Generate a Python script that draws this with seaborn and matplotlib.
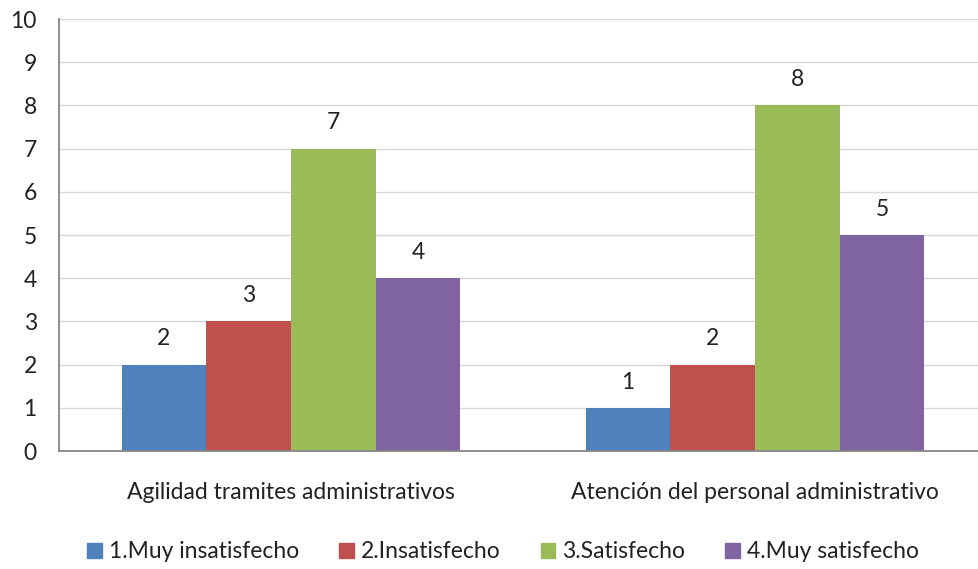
import pandas as pd
import matplotlib.pyplot as plt
import seaborn as sns

# Chart data
categories = ['Agilidad tramites administrativos', 'Atención del personal administrativo']
levels = ['1.Muy insatisfecho', '2.Insatisfecho', '3.Satisfecho', '4.Muy satisfecho']
agilidad = [2, 3, 7, 4]
atencion = [1, 2, 8, 5]
colors = ['#4F81BD', '#C0504D', '#9BBB59', '#8064A2']

df = pd.DataFrame({
    'categoria': [categories[0]] * 4 + [categories[1]] * 4,
    'nivel': levels + levels,
    'valor': agilidad + atencion,
})

sns.set_style('white')
plt.rcParams['font.family'] = ['Lato', 'DejaVu Sans']
fs = 16.5

fig = plt.figure(figsize=(9.79, 5.69), dpi=100)
ax = fig.add_axes([59 / 979, 118 / 569, 928 / 979, 432 / 569])

sns.barplot(data=df, x='categoria', y='valor', hue='nivel', hue_order=levels,
            palette=colors, width=0.73, gap=0, saturation=1, ax=ax,
            edgecolor='none', legend=False)

for cont in ax.containers:
    ax.bar_label(cont, padding=11, fontsize=fs, color='#222222')

ax.set_ylim(0, 10)
ax.set_xlim(-0.5, 1.5)
ax.set_yticks(range(0, 11))
ax.yaxis.grid(True, color='#D9D9D9', linewidth=1)
ax.set_axisbelow(True)
ax.set_xlabel('')
ax.set_ylabel('')

# category separators on x axis
ax.set_xticks([-0.5, 0.5, 1.5], minor=True)
ax.tick_params(axis='x', which='minor', length=8, color='#868686', width=1, direction='out')
ax.tick_params(axis='x', which='major', length=0, pad=22, labelsize=fs, labelcolor='#222222')
ax.tick_params(axis='y', length=7, color='#868686', width=1, direction='out',
               labelsize=fs, labelcolor='#222222', pad=9)

for side in ['top', 'right']:
    ax.spines[side].set_visible(False)
ax.spines['left'].set_color('#868686')
ax.spines['bottom'].set_color('#868686')
ax.spines['left'].set_linewidth(1.3)
ax.spines['bottom'].set_linewidth(1.3)

handles = [plt.Rectangle((0, 0), 1, 1, color=c) for c in colors]
fig.legend(handles, levels, loc='center', bbox_to_anchor=(503 / 979, 1 - 552 / 569),
           ncol=4, frameon=False, fontsize=fs, handlelength=0.65, handleheight=0.65,
           handletextpad=0.3, columnspacing=1.75, labelcolor='#222222')

plt.savefig('out.png', dpi=100)
plt.close()
